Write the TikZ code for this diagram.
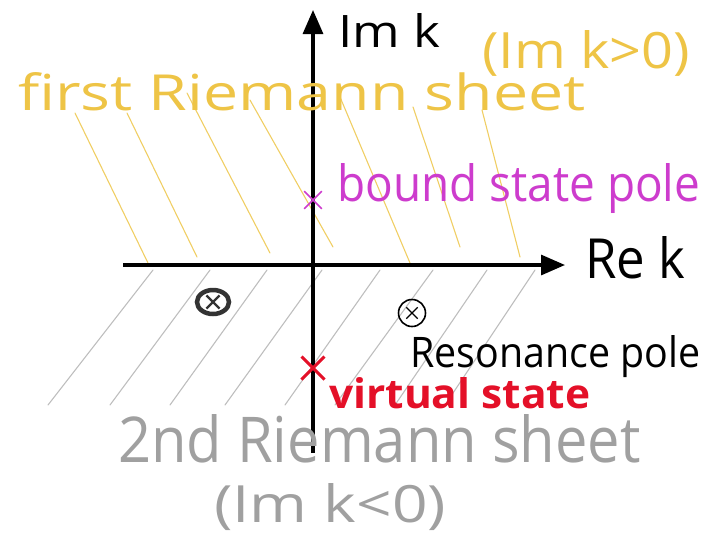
\documentclass[tikz,border=0pt]{standalone}
\usepackage{fontspec}
\setmainfont{Open Sans}
\usepackage{graphicx}
\usetikzlibrary{arrows.meta, shapes.geometric, shapes.misc}

\definecolor{sheetone}{RGB}{238,196,70}
\definecolor{hatchone}{RGB}{240,206,100}
\definecolor{sheettwo}{RGB}{160,160,160}
\definecolor{hatchtwo}{RGB}{190,190,190}
\definecolor{boundc}{RGB}{205,60,205}
\definecolor{virtc}{RGB}{228,16,40}

% text squeezed into the box the sketch gives it
\newcommand{\fitto}[3]{\resizebox{#1}{#2}{#3}}

\begin{document}
\begin{tikzpicture}[
  x=1pt, y=-1pt,
  lbl/.style={anchor=base west, inner sep=0pt},
  axis/.style={line width=3.2pt, -{Triangle[length=24pt,width=20pt]}},
  hatch/.style={line width=1.1pt, line cap=round},
  polemark/.style={cross out, draw, inner sep=0pt},
]
\useasboundingbox (0,0) rectangle (712,550);

%% ---- hatching, first sheet (upper half) ----
\foreach \xa/\ya/\xb/\yb in {75/113/148/263, 127/113/197/257,
    187/93/270/253, 250/100/333/247, 340/97/410/263,
    413/107/460/247, 482/110/520/257}
  \draw[hatch, hatchone] (\xa,\ya) -- (\xb,\yb);

%% ---- hatching, second sheet (lower half) ----
\foreach \xa/\xb in {153/48, 210/110, 267/170, 322/225,
    380/285, 433/335, 487/395, 535/445}
  \draw[hatch, hatchtwo] (\xa,270) -- (\xb,405);

%% ---- axes ----
\coordinate (re0) at (123,265);
\coordinate (re1) at (565,265);
\coordinate (im0) at (313,453);
\coordinate (im1) at (313,10);
\draw[axis] (re0) -- (re1);
\draw[axis] (im0) -- (im1);

\node[lbl] (imk) at (338,47)  {\fitto{102pt}{34pt}{Im k}};
\node[lbl] (rek) at (585,278) {\fitto{100pt}{42pt}{Re k}};

%% ---- sheet labels ----
\node[lbl, text=sheetone] (upos)  at (482,68)  {\fitto{208pt}{38pt}{(Im k>0)}};
\node[lbl, text=sheetone] (first) at (18,110)  {\fitto{567pt}{38pt}{first Riemann sheet}};
\node[lbl, text=sheettwo] (second) at (118,462) {\fitto{522pt}{48pt}{2nd Riemann sheet}};
\node[lbl, text=sheettwo] (uneg)  at (214,522) {\fitto{232pt}{39pt}{(Im k<0)}};

%% ---- poles ----
\node[polemark, boundc, line width=1.6pt, minimum size=16pt] (bound) at (313,200) {};
\node[lbl, text=boundc] (boundl) at (337,201) {\fitto{363pt}{38pt}{bound state pole}};

\node[circle, draw, line width=1.6pt, minimum size=27pt] (res) at (412,313) {};
\node[polemark, line width=1.3pt, minimum size=10pt] (resx) at (res.center) {};
\node[lbl] (resl) at (410,367) {\fitto{290pt}{32pt}{Resonance pole}};

\node[ellipse, draw, line width=4.5pt, minimum width=32pt,
      minimum height=24pt, black!80] (mirror) at (213,302) {};
\node[polemark, line width=2.2pt, minimum size=11pt, black!80] (mirrorx) at (mirror.center) {};

\node[polemark, virtc, line width=3pt, minimum size=20pt] (virt) at (313,368) {};
\node[lbl, text=virtc, font=\bfseries] (virtl) at (329,408) {\fitto{261pt}{31pt}{virtual state}};

\end{tikzpicture}
\end{document}
